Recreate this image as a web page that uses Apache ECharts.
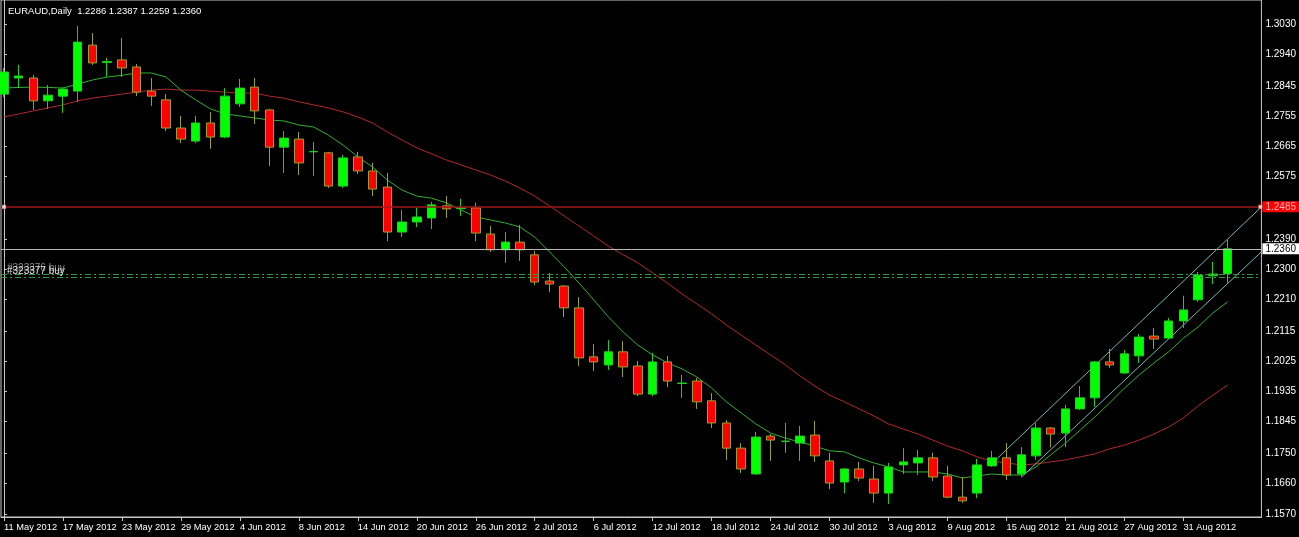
<!DOCTYPE html>
<html>
<head>
<meta charset="utf-8">
<script src="https://cdn.jsdelivr.net/npm/echarts@6/dist/echarts.min.js"></script>
<style>html,body{margin:0;padding:0;background:#000;}#chart{width:1299px;height:537px;}</style>
</head>
<body>
<div id="chart"></div>
<script>
const dates = ['11 May 2012','14 May 2012','15 May 2012','16 May 2012','17 May 2012','18 May 2012','21 May 2012','22 May 2012','23 May 2012','24 May 2012','25 May 2012','28 May 2012','29 May 2012','30 May 2012','31 May 2012',
'1 Jun 2012','4 Jun 2012','5 Jun 2012','6 Jun 2012','7 Jun 2012','8 Jun 2012','11 Jun 2012','12 Jun 2012','13 Jun 2012','14 Jun 2012','15 Jun 2012','18 Jun 2012','19 Jun 2012','20 Jun 2012','21 Jun 2012','22 Jun 2012','25 Jun 2012','26 Jun 2012','27 Jun 2012','28 Jun 2012','29 Jun 2012',
'2 Jul 2012','3 Jul 2012','4 Jul 2012','5 Jul 2012','6 Jul 2012','9 Jul 2012','10 Jul 2012','11 Jul 2012','12 Jul 2012','13 Jul 2012','16 Jul 2012','17 Jul 2012','18 Jul 2012','19 Jul 2012','20 Jul 2012','23 Jul 2012','24 Jul 2012','25 Jul 2012','26 Jul 2012','27 Jul 2012','30 Jul 2012','31 Jul 2012',
'1 Aug 2012','2 Aug 2012','3 Aug 2012','6 Aug 2012','7 Aug 2012','8 Aug 2012','9 Aug 2012','10 Aug 2012','13 Aug 2012','14 Aug 2012','15 Aug 2012','16 Aug 2012','17 Aug 2012','20 Aug 2012','21 Aug 2012','22 Aug 2012','23 Aug 2012','24 Aug 2012','27 Aug 2012','28 Aug 2012','29 Aug 2012','30 Aug 2012','31 Aug 2012',
'3 Sep 2012','4 Sep 2012','5 Sep 2012'];

const opens = [1.2821,1.2869,1.2869,1.2801,1.2815,1.2830,1.2967,1.2915,1.2923,1.2902,1.2830,1.2804,1.2720,1.2681,1.2735,
1.2693,1.2792,1.2842,1.2774,1.2663,1.2687,1.2649,1.2646,1.2547,1.2634,1.2592,1.2544,1.2410,1.2440,1.2452,1.2488,1.2480,1.2482,1.2404,1.2357,1.2380,
1.2342,1.2264,1.2249,1.2184,1.2038,1.2014,1.2053,1.2011,1.1927,1.2023,1.1959,1.1966,1.1907,1.1841,1.1766,1.1689,1.1802,1.1786,1.1781,1.1805,1.1728,1.1665,
1.1704,1.1674,1.1632,1.1716,1.1722,1.1737,1.1683,1.1620,1.1632,1.1713,1.1737,1.1689,1.1743,1.1826,1.1811,1.1883,1.1916,1.2023,1.1990,1.2041,1.2100,1.2094,1.2145,
1.2208,1.2280,1.2286];
const closes = [1.2887,1.2875,1.2801,1.2818,1.2836,1.2976,1.2914,1.2918,1.2899,1.2827,1.2815,1.2720,1.2687,1.2735,1.2693,
1.2815,1.2839,1.2771,1.2663,1.2690,1.2616,1.2650,1.2547,1.2631,1.2592,1.2538,1.2410,1.2440,1.2455,1.2491,1.2479,1.2482,1.2407,1.2357,1.2380,1.2357,
1.2261,1.2255,1.2184,1.2035,1.2023,1.2053,1.2008,1.1927,1.2023,1.1966,1.1960,1.1904,1.1841,1.1766,1.1704,1.1799,1.1790,1.1787,1.1802,1.1743,1.1662,1.1704,
1.1677,1.1632,1.1710,1.1725,1.1737,1.1680,1.1620,1.1609,1.1716,1.1737,1.1686,1.1746,1.1826,1.1808,1.1883,1.1916,1.2023,1.2014,1.2047,1.2097,1.2091,1.2145,1.2178,
1.2282,1.2285,1.2360];
const lows = [1.2812,1.2839,1.2774,1.2777,1.2765,1.2798,1.2908,1.2872,1.2872,1.2815,1.2786,1.2711,1.2675,1.2675,1.2658,
1.2690,1.2783,1.2732,1.2607,1.2586,1.2580,1.2577,1.2541,1.2541,1.2583,1.2517,1.2383,1.2395,1.2425,1.2419,1.2452,1.2458,1.2383,1.2351,1.2318,1.2324,
1.2252,1.2231,1.2157,1.2011,1.1996,1.1999,1.1978,1.1921,1.1921,1.1948,1.1916,1.1883,1.1826,1.1731,1.1692,1.1686,1.1728,1.1752,1.1728,1.1725,1.1644,1.1632,
1.1668,1.1603,1.1600,1.1689,1.1686,1.1668,1.1617,1.1603,1.1617,1.1710,1.1671,1.1680,1.1731,1.1769,1.1769,1.1880,1.1889,1.2005,1.1987,1.2020,1.2062,1.2091,1.2124,
1.2202,1.2255,1.2259];
const highs = [1.2899,1.2908,1.2878,1.2848,1.2842,1.3024,1.3003,1.2929,1.2988,1.2911,1.2869,1.2821,1.2756,1.2756,1.2768,
1.2839,1.2866,1.2869,1.2777,1.2711,1.2708,1.2678,1.2649,1.2640,1.2649,1.2616,1.2586,1.2476,1.2482,1.2500,1.2517,1.2509,1.2497,1.2428,1.2410,1.2431,
1.2354,1.2288,1.2252,1.2216,1.2076,1.2088,1.2085,1.2026,1.2050,1.2041,1.1984,1.1975,1.1930,1.1850,1.1781,1.1814,1.1808,1.1841,1.1832,1.1847,1.1752,1.1707,
1.1725,1.1713,1.1722,1.1766,1.1761,1.1752,1.1713,1.1680,1.1734,1.1758,1.1781,1.1769,1.1841,1.1829,1.1895,1.1951,1.2026,1.2062,1.2059,1.2106,1.2124,1.2154,1.2220,
1.2291,1.2321,1.2387];

const maFast = [1.2839,1.2841,1.2842,1.2841,1.2839,1.2851,1.2863,1.2872,1.2877,1.2884,1.2884,1.2872,1.2833,1.2804,1.2777,
1.2762,1.2756,1.2750,1.2744,1.2741,1.2729,1.2723,1.2699,1.2669,1.2634,1.2604,1.2565,1.2535,1.2517,1.2511,1.2497,1.2476,1.2455,1.2446,1.2437,1.2425,
1.2395,1.2351,1.2306,1.2258,1.2208,1.2157,1.2112,1.2073,1.2044,1.2020,1.2002,1.1978,1.1945,1.1904,1.1871,1.1838,1.1811,1.1796,1.1784,1.1772,1.1758,1.1755,
1.1737,1.1722,1.1710,1.1695,1.1695,1.1695,1.1689,1.1677,1.1683,1.1689,1.1686,1.1686,1.1710,1.1746,1.1781,1.1820,1.1859,1.1901,1.1945,1.1984,1.2020,1.2053,1.2094,
1.2127,1.2169,1.2202];
const maSlow = [1.2753,1.2762,1.2771,1.2780,1.2789,1.2801,1.2809,1.2815,1.2821,1.2827,1.2833,1.2836,1.2833,1.2833,1.2830,
1.2827,1.2824,1.2824,1.2815,1.2809,1.2798,1.2789,1.2780,1.2768,1.2753,1.2735,1.2708,1.2684,1.2661,1.2643,1.2625,1.2610,1.2595,1.2580,1.2562,1.2541,
1.2517,1.2488,1.2458,1.2428,1.2398,1.2368,1.2342,1.2318,1.2288,1.2258,1.2225,1.2196,1.2166,1.2133,1.2103,1.2073,1.2044,1.2014,1.1981,1.1951,1.1924,1.1904,
1.1883,1.1862,1.1838,1.1823,1.1808,1.1790,1.1772,1.1758,1.1740,1.1728,1.1722,1.1716,1.1719,1.1725,1.1731,1.1740,1.1749,1.1764,1.1775,1.1790,1.1808,1.1829,1.1856,
1.1892,1.1924,1.1954];

const yTicks = [1.3030,1.2940,1.2845,1.2755,1.2665,1.2575,1.2390,1.2300,1.2210,1.2115,1.2025,1.1935,1.1845,1.1750,1.1660,1.1570];
const xTickBars = [0,4,8,12,16,20,24,28,32,36,40,44,48,52,56,60,64,68,72,76,80];
const headerText = 'EURAUD,Daily  1.2286 1.2387 1.2259 1.2360';
const redLevel = 1.2485;
const bidLevel = 1.2360;
const orderLevels = [1.2285, 1.2276];
const orderLabels = ['#323376 buy', '#323377 buy'];
const channelUpper = [[67.05, 1.1722], [85.22, 1.2482]];
const channelLower = [[69.02, 1.1680], [85.29, 1.2351]];
const lineHandles = [[0, 1.2485], [85.22, 1.2485]];

const FONT = 'Liberation Sans';
const chart = echarts.init(document.getElementById('chart'), null, {renderer: 'canvas'});
const candleData = opens.map((o, i) => [i, o, closes[i], lows[i], highs[i]]);
const fastData = maFast.map((v, i) => [i, v]);
const slowData = maSlow.map((v, i) => [i, v]);

chart.setOption({
  animation: false,
  backgroundColor: '#000000',
  title: {text: headerText, left: 3, top: 1, textStyle: {color: '#ffffff', fontSize: 9.5, fontWeight: 'normal', fontFamily: FONT}},
  grid: {left: 1, right: 37, top: 0, bottom: 20, show: true, borderColor: '#c8c8c8', borderWidth: 1, backgroundColor: 'transparent'},
  xAxis: {
    type: 'value', min: -0.203, max: 85.29,
    splitLine: {show: false},
    axisLine: {show: true, lineStyle: {color: '#c8c8c8'}},
    axisTick: {show: true, length: 4, customValues: xTickBars, lineStyle: {color: '#c8c8c8'}},
    axisLabel: {customValues: xTickBars, formatter: v => dates[Math.round(v)] || '', color: '#ffffff', fontSize: 9.3, fontFamily: FONT, align: 'left', margin: 6, padding: [0,0,0,0]}
  },
  yAxis: {
    type: 'value', position: 'right', min: 1.15608, max: 1.31015, scale: true,
    splitLine: {show: false},
    axisLine: {show: true, lineStyle: {color: '#c8c8c8'}},
    axisTick: {show: true, length: 3, customValues: yTicks, lineStyle: {color: '#c8c8c8'}},
    axisLabel: {customValues: yTicks, formatter: v => v.toFixed(4), color: '#ffffff', fontSize: 10, fontFamily: FONT, margin: 4}
  },
  series: [
    {
      type: 'line', data: slowData, symbol: 'none', lineStyle: {color: '#b22a2a', width: 1}, z: 2,
      markLine: {
        silent: true, symbol: ['none', 'none'], animation: false, precision: 4,
        data: [
          {yAxis: orderLevels[0], lineStyle: {color: '#2f9a3a', width: 1, type: [6, 3, 2, 3]},
           label: {show: true, position: 'insideStartTop', formatter: orderLabels[0], color: '#8a8a8a', fontSize: 10, fontFamily: FONT, distance: [6, 1]}},
          {yAxis: orderLevels[1], lineStyle: {color: '#2f9a3a', width: 1, type: [6, 3, 2, 3]},
           label: {show: true, position: 'insideStartTop', formatter: orderLabels[1], color: '#e0e0e0', fontSize: 10, fontFamily: FONT, distance: [6, 1]}},
          {yAxis: bidLevel, lineStyle: {color: '#b8b8b8', width: 1, type: 'solid'},
           label: {show: true, position: 'end', formatter: bidLevel.toFixed(4), backgroundColor: '#ffffff', color: '#000000', fontSize: 10, fontFamily: FONT, padding: [1, 3, 0, 3], distance: 1}},
          {yAxis: redLevel, lineStyle: {color: '#a01818', width: 1.5, type: 'solid'},
           label: {show: true, position: 'end', formatter: redLevel.toFixed(4), backgroundColor: '#ff0000', color: '#ffb0b0', fontSize: 10, fontFamily: FONT, padding: [1, 3, 0, 3], distance: 1}}
        ]
      }
    },
    {type: 'line', data: fastData, symbol: 'none', lineStyle: {color: '#34b034', width: 1}, z: 3},
    {type: 'line', data: channelUpper, symbol: 'none', lineStyle: {color: '#78b8b0', width: 1}, z: 3},
    {type: 'line', data: channelLower, symbol: 'none', lineStyle: {color: '#78b8b0', width: 1}, z: 3},
    {
      type: 'candlestick', data: candleData, encode: {x: 0, y: [1, 2, 3, 4]}, barWidth: 9, z: 4,
      itemStyle: {color: '#00ff00', color0: '#ff0000', borderColor: '#22cc22', borderColor0: '#9aa030', borderWidth: 1}
    },
    {type: 'scatter', data: lineHandles, symbol: 'rect', symbolSize: 4, itemStyle: {color: '#ffffff', borderColor: '#a01c1c', borderWidth: 0.5}, z: 6, silent: true}
  ]
});
</script>
</body>
</html>
